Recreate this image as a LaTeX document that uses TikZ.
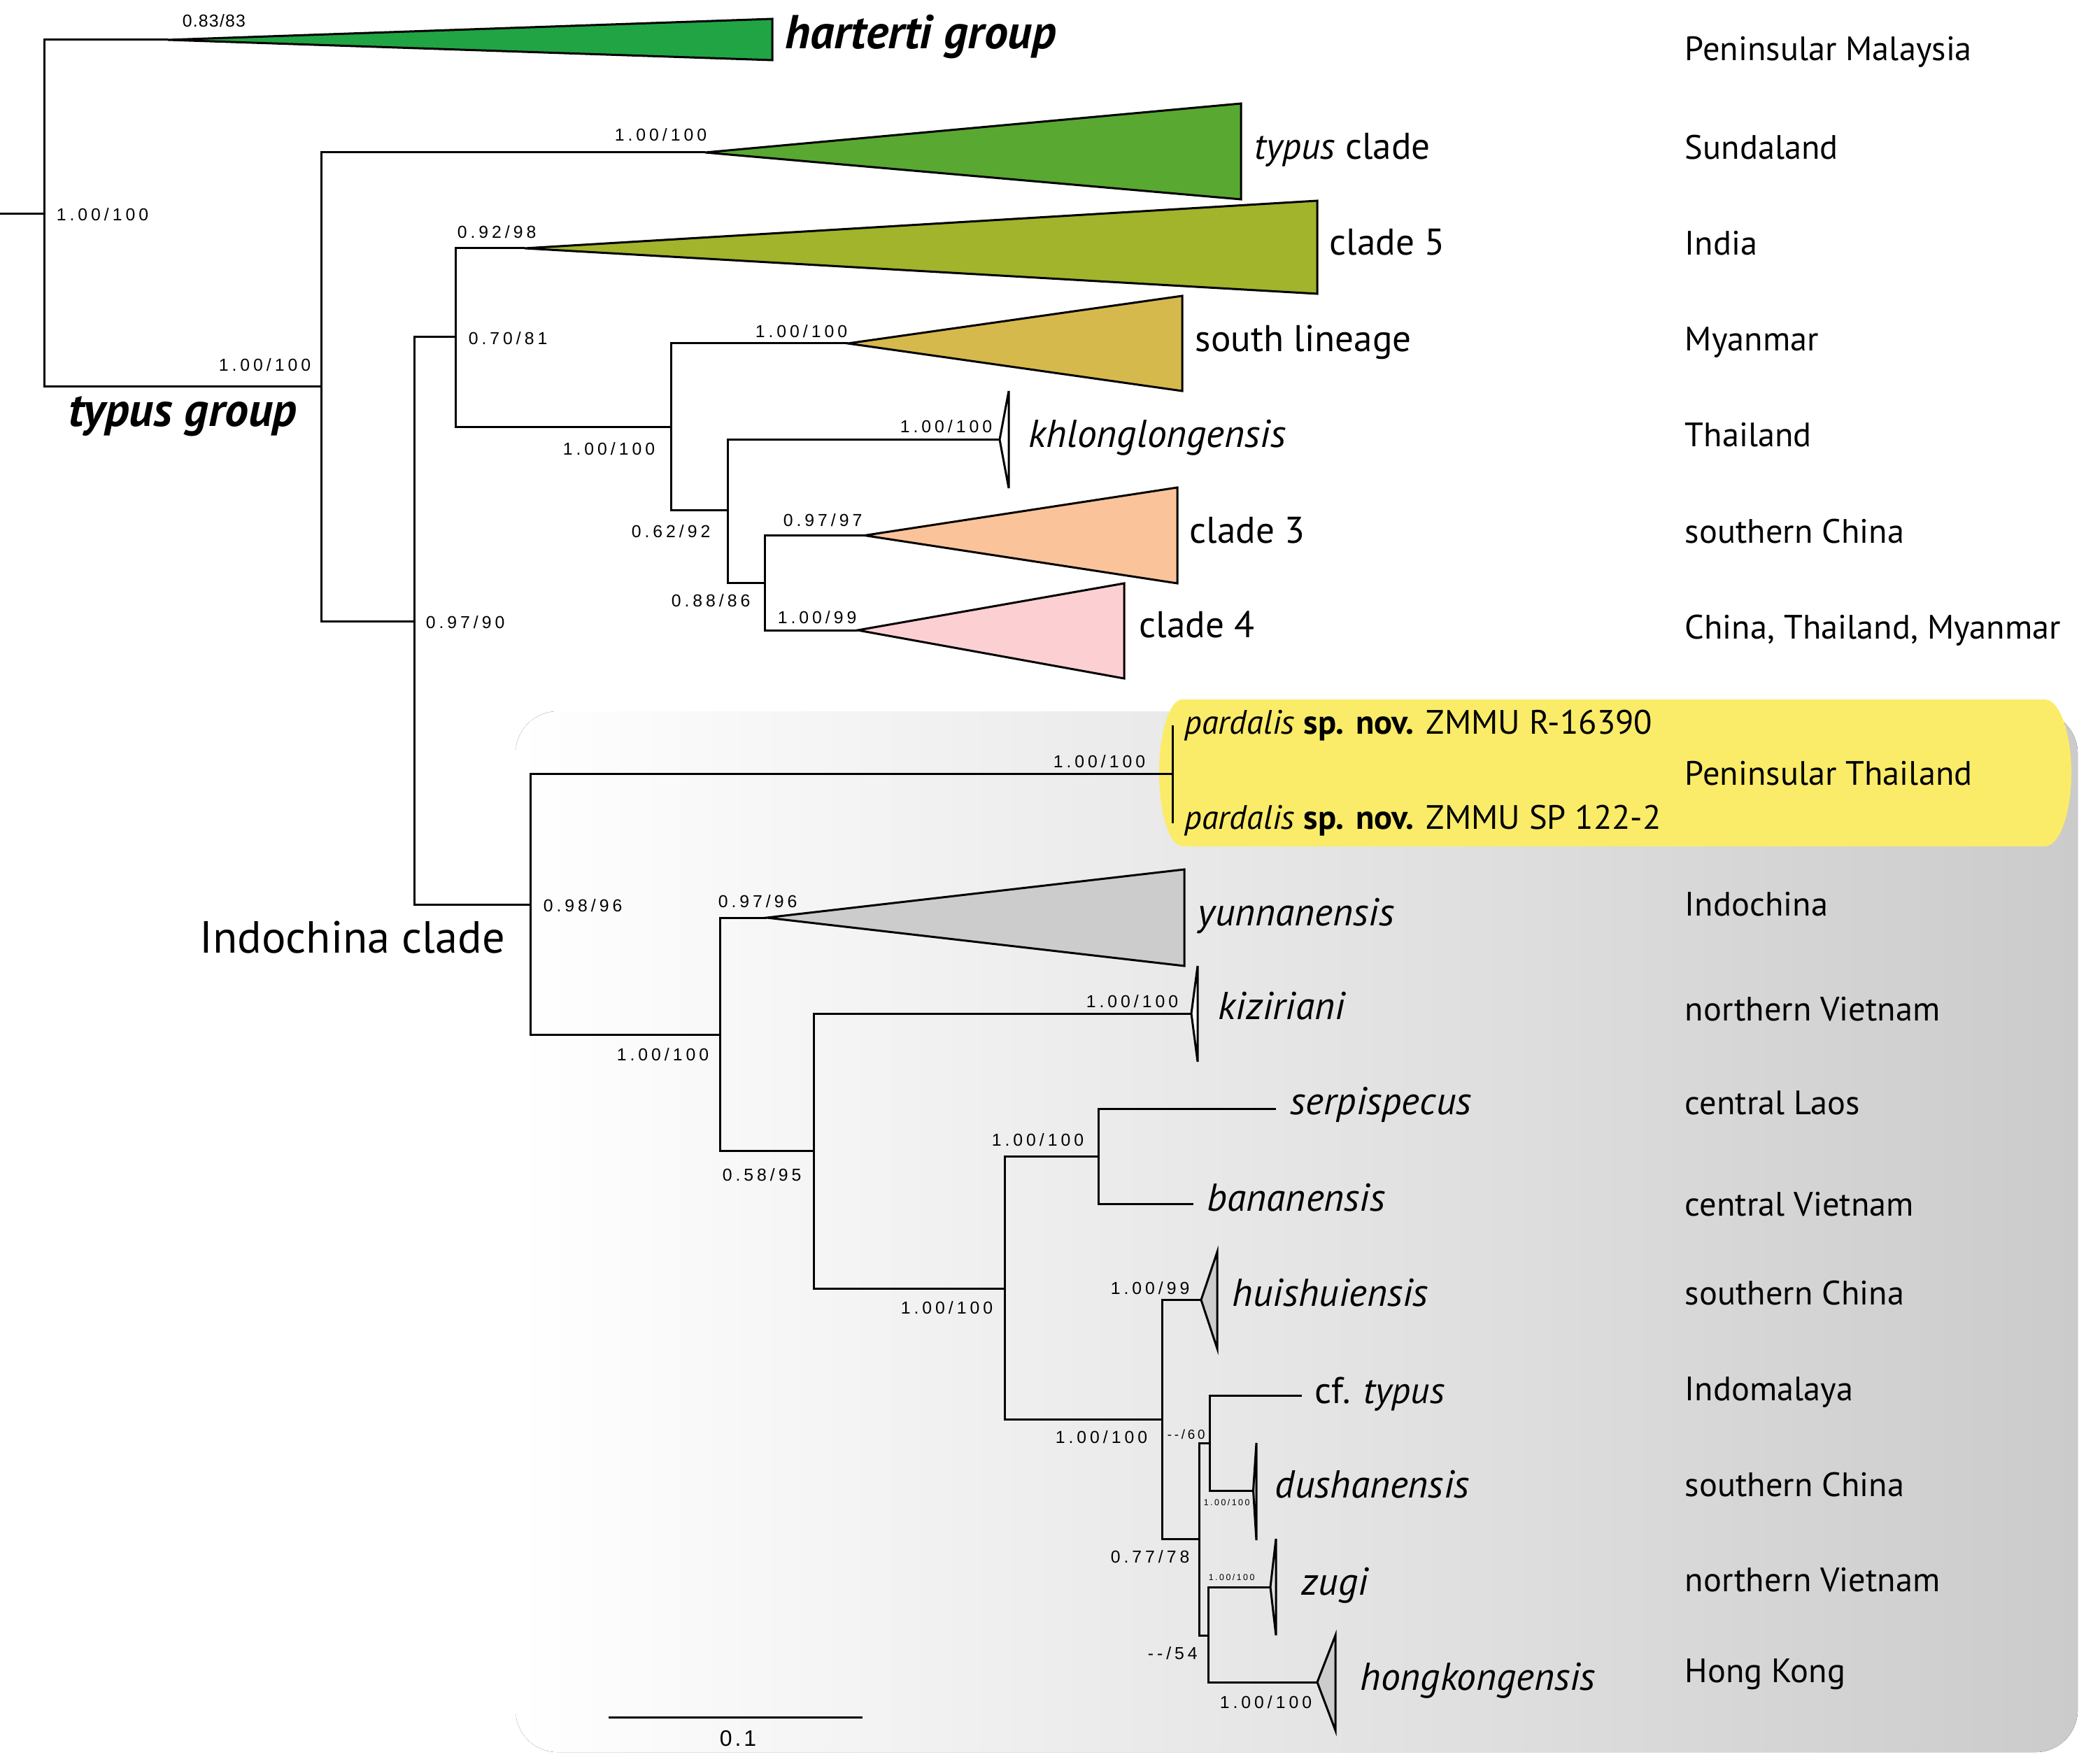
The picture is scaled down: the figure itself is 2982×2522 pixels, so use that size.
\documentclass[tikz,border=0pt]{standalone}
\usepackage{fontspec}
\setmainfont{PT Sans}
\newfontfamily\supfont[LetterSpace=20]{Liberation Sans}
\newfontfamily\supfontc[LetterSpace=5]{Liberation Sans}
\newfontfamily\barfont[LetterSpace=12]{Liberation Sans}
\definecolor{cHart}{HTML}{21A443}
\definecolor{cTypus}{HTML}{58A831}
\definecolor{cFive}{HTML}{A2B32C}
\definecolor{cSouth}{HTML}{D6B94D}
\definecolor{cThree}{HTML}{FBC39A}
\definecolor{cFour}{HTML}{FCD0D3}
\definecolor{cGray}{HTML}{CCCCCC}
\definecolor{cYel}{HTML}{FAEC68}
\definecolor{bgR}{HTML}{CBCBCB}
\tikzset{
  br/.style={line width=0.75pt, line join=miter},
  tri/.style={line width=0.75pt, draw=black},
  sup/.style={font=\supfont\fontsize{6.2}{7}\selectfont, anchor=base west, inner sep=0pt},
  supmid/.style={font=\supfont\fontsize{4.7}{5}\selectfont, anchor=base west, inner sep=0pt},
  supsm/.style={font=\supfont\fontsize{3.1}{4}\selectfont, anchor=base west, inner sep=0pt},
  supc/.style={font=\supfontc\fontsize{6.2}{7}\selectfont, anchor=base west, inner sep=0pt},
  loc/.style={font=\fontsize{12.1}{14}\selectfont, anchor=base west, inner sep=0pt},
  tax/.style={font=\fontsize{13.3}{15}\selectfont, anchor=base west, inner sep=0pt},
  taxi/.style={font=\itshape\fontsize{13.9}{16}\selectfont, anchor=base west, inner sep=0pt},
  pard/.style={font=\fontsize{12.1}{14}\selectfont, anchor=base west, inner sep=0pt},
  grp/.style={font=\bfseries\itshape\fontsize{17}{19}\selectfont, anchor=base west, inner sep=0pt},
}
\begin{document}
\begin{tikzpicture}[x=0.25pt,y=-0.25pt]
\useasboundingbox (0,0) rectangle (2982,2522);
% background panels
\fill[left color=white, right color=bgR, rounded corners=15pt] (737,1017) rectangle (2970,2505);
\fill[cYel] (1690,1000) -- (2923,1000) .. controls (2944,1000) and (2961,1047) .. (2961,1105)
  .. controls (2961,1163) and (2944,1210) .. (2923,1210) -- (1690,1210)
  .. controls (1672,1210) and (1657,1163) .. (1657,1105)
  .. controls (1657,1047) and (1672,1000) .. (1690,1000) -- cycle;
% tree coordinates
\coordinate (r0) at (0,306);
\coordinate (root) at (63,306);
\coordinate (hA) at (240,57);
\coordinate (tg) at (459,553);
\coordinate (tcA) at (1008,218);
\coordinate (n090) at (592,888);
\coordinate (n070) at (651,482);
\coordinate (c5A) at (750,355);
\coordinate (nS) at (959,610.5);
\coordinate (slA) at (1212,491);
\coordinate (nK) at (1040,730);
\coordinate (khA) at (1429,628.5);
\coordinate (n34) at (1093,833.6);
\coordinate (c3A) at (1236,765.5);
\coordinate (c4A) at (1226,901);
\coordinate (nInd) at (758,1293);
\coordinate (pard) at (1676,1106);
\coordinate (pT1) at (1676,1037);
\coordinate (pT2) at (1676,1177);
\coordinate (nY) at (1029,1479);
\coordinate (yA) at (1096,1312);
\coordinate (nKz) at (1163,1645.5);
\coordinate (kzA) at (1703,1449);
\coordinate (nB) at (1436,1842);
\coordinate (nSB) at (1570,1653);
\coordinate (serT) at (1824,1585);
\coordinate (banT) at (1706,1721);
\coordinate (nH) at (1661,2029);
\coordinate (huA) at (1717,1858.5);
\coordinate (n77) at (1714,2200.5);
\coordinate (n60) at (1729.5,2063);
\coordinate (cfT) at (1861,1995);
\coordinate (duA) at (1791.5,2131);
\coordinate (n54) at (1727,2338);
\coordinate (zuA) at (1816,2269);
\coordinate (hkA) at (1883,2405);
% collapsed clades
\draw[tri, fill=cHart] (hA) -- (1104,27) -- (1104,86) -- cycle;
\draw[tri, fill=cTypus] (tcA) -- (1774,148) -- (1774,285) -- cycle;
\draw[tri, fill=cFive] (c5A) -- (1883,287) -- (1883,420) -- cycle;
\draw[tri, fill=cSouth] (slA) -- (1690,423) -- (1690,559) -- cycle;
\draw[tri, fill=white] (khA) -- (1442,559) -- (1442,698) -- cycle;
\draw[tri, fill=cThree] (c3A) -- (1683,697) -- (1683,834) -- cycle;
\draw[tri, fill=cFour] (c4A) -- (1607,834) -- (1607,970) -- cycle;
\draw[tri, fill=cGray] (yA) -- (1693,1243) -- (1693,1381) -- cycle;
\draw[tri, fill=white] (kzA) -- (1712,1381) -- (1712,1518) -- cycle;
\draw[tri, fill=cGray] (huA) -- (1740,1790) -- (1740,1928) -- cycle;
\draw[tri, fill=cGray] (duA) -- (1796,2063) -- (1796,2202) -- cycle;
\draw[tri, fill=cGray!60] (zuA) -- (1824,2200) -- (1824,2338) -- cycle;
\draw[tri, fill=cGray] (hkA) -- (1909,2338) -- (1909,2474) -- cycle;
% branches
\draw[br] (r0) -- (root);
\draw[br] (root) |- (hA);
\draw[br] (root) |- (tg);
\draw[br] (tg) |- (tcA);
\draw[br] (tg) |- (n090);
\draw[br] (n090) |- (n070);
\draw[br] (n090) |- (nInd);
\draw[br] (n070) |- (c5A);
\draw[br] (n070) |- (nS);
\draw[br] (nS) |- (slA);
\draw[br] (nS) |- (nK);
\draw[br] (nK) |- (khA);
\draw[br] (nK) |- (n34);
\draw[br] (n34) |- (c3A);
\draw[br] (n34) |- (c4A);
\draw[br] (nInd) |- (pard);
\draw[br] (pT1) -- (pT2);
\draw[br] (nInd) |- (nY);
\draw[br] (nY) |- (yA);
\draw[br] (nY) |- (nKz);
\draw[br] (nKz) |- (kzA);
\draw[br] (nKz) |- (nB);
\draw[br] (nB) |- (nSB);
\draw[br] (nB) |- (nH);
\draw[br] (nSB) |- (serT);
\draw[br] (nSB) |- (banT);
\draw[br] (nH) |- (huA);
\draw[br] (nH) |- (n77);
\draw[br] (n77) |- (n60);
\draw[br] (n77) |- (n54);
\draw[br] (n60) |- (cfT);
\draw[br] (n60) |- (duA);
\draw[br] (n54) |- (zuA);
\draw[br] (n54) |- (hkA);
% scale bar
\coordinate (sb1) at (870,2455);
\coordinate (sb2) at (1233,2455);
\draw[br] (sb1) -- (sb2);
\node[font=\barfont\fontsize{8}{9}\selectfont, anchor=base, inner sep=0pt] (sbl) at (1055,2496) {0.1};
% support values
\node[supc] (s1) at (260,39) {0.83/83};
\node[sup] (s2) at (80,316) {1.00/100};
\node[sup] (s3) at (878,202) {1.00/100};
\node[sup] (s4) at (312,531) {1.00/100};
\node[sup] (s5) at (653,341) {0.92/98};
\node[sup] (s6) at (669,493) {0.70/81};
\node[sup] (s7) at (1079,483) {1.00/100};
\node[sup] (s8) at (804,651) {1.00/100};
\node[sup] (s9) at (1286,619) {1.00/100};
\node[sup] (s10) at (902,769) {0.62/92};
\node[sup] (s11) at (1119,753) {0.97/97};
\node[sup] (s12) at (959,867) {0.88/86};
\node[sup] (s13) at (1111,891) {1.00/99};
\node[sup] (s14) at (608,898) {0.97/90};
\node[sup] (s15) at (1505,1097) {1.00/100};
\node[sup] (s16) at (776,1303) {0.98/96};
\node[sup] (s17) at (1026,1297) {0.97/96};
\node[sup] (s18) at (881,1516) {1.00/100};
\node[sup] (s19) at (1552,1440) {1.00/100};
\node[sup] (s20) at (1032,1688) {0.58/95};
\node[sup] (s21) at (1417,1638) {1.00/100};
\node[sup] (s22) at (1287,1878) {1.00/100};
\node[sup] (s23) at (1587,1850) {1.00/99};
\node[sup] (s24) at (1508,2063) {1.00/100};
\node[supmid] (s25) at (1668,2057) {-{}-/60};
\node[sup] (s26) at (1587,2234) {0.77/78};
\node[supsm] (s27) at (1720,2152) {1.00/100};
\node[sup] (s28) at (1640,2372) {-{}-/54};
\node[supsm] (s29) at (1727,2259) {1.00/100};
\node[sup] (s30) at (1743,2442) {1.00/100};
% group labels
\node[grp] (gHart) at (1122,70) {harterti group};
\node[grp] (gTyp) at (98,610) {typus group};
\node[font=\fontsize{16.1}{18}\selectfont, anchor=base west, inner sep=0pt] (gInd) at (285,1362) {Indochina clade};
% taxon labels
\node[tax] (tTyp) at (1793,228) {\textit{typus} clade};
\node[tax] (tC5) at (1900,365) {clade 5};
\node[tax] (tSL) at (1708,503) {south lineage};
\node[taxi] (tKh) at (1470,640) {khlonglongensis};
\node[tax] (tC3) at (1700,777) {clade 3};
\node[tax] (tC4) at (1628,911) {clade 4};
\node[pard] (tP1) at (1693,1049) {\textit{pardalis} \textbf{sp. nov.} ZMMU R-16390};
\node[pard] (tP2) at (1693,1185) {\textit{pardalis} \textbf{sp. nov.} ZMMU SP 122-2};
\node[taxi] (tYu) at (1712,1323) {yunnanensis};
\node[taxi] (tKz) at (1741,1457) {kiziriani};
\node[taxi] (tSe) at (1844,1593) {serpispecus};
\node[taxi] (tBa) at (1725,1731) {bananensis};
\node[taxi] (tHu) at (1761,1867) {huishuiensis};
\node[tax] (tCf) at (1879,2006) {cf. \textit{typus}};
\node[taxi] (tDu) at (1822,2141) {dushanensis};
\node[taxi] (tZu) at (1860,2280) {zugi};
\node[taxi] (tHk) at (1944,2416) {hongkongensis};
% locations
\node[loc] (l1) at (2408,87) {Peninsular Malaysia};
\node[loc] (l2) at (2408,228) {Sundaland};
\node[loc] (l3) at (2408,365) {India};
\node[loc] (l4) at (2408,502) {Myanmar};
\node[loc] (l5) at (2408,639) {Thailand};
\node[loc] (l6) at (2408,776) {southern China};
\node[loc] (l7) at (2408,913) {China, Thailand, Myanmar};
\node[loc] (l8) at (2408,1122) {Peninsular Thailand};
\node[loc] (l9) at (2408,1309) {Indochina};
\node[loc] (l10) at (2408,1459) {northern Vietnam};
\node[loc] (l11) at (2408,1593) {central Laos};
\node[loc] (l12) at (2408,1738) {central Vietnam};
\node[loc] (l13) at (2408,1865) {southern China};
\node[loc] (l14) at (2408,2002) {Indomalaya};
\node[loc] (l15) at (2408,2139) {southern China};
\node[loc] (l16) at (2408,2275) {northern Vietnam};
\node[loc] (l17) at (2408,2405) {Hong Kong};
\end{tikzpicture}
\end{document}
